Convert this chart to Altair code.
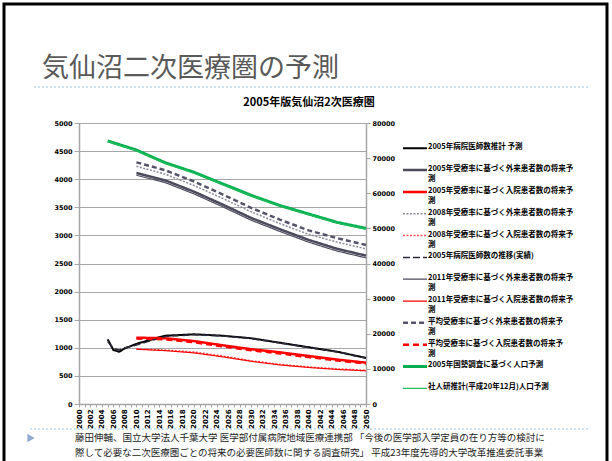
import altair as alt
import pandas as pd

# ---- legend entries (also the series keys); "|" marks a line break ----
legend_labels = [
    "2005年病院医師数推計 予測",
    "2005年受療率に基づく外来患者数の将来予|測",
    "2005年受療率に基づく入院患者数の将来予|測",
    "2008年受療率に基づく外来患者数の将来予|測",
    "2008年受療率に基づく入院患者数の将来予|測",
    "2005年病院医師数の推移(実績)",
    "2011年受療率に基づく外来患者数の将来予|測",
    "2011年受療率に基づく入院患者数の将来予|測",
    "平均受療率に基づく外来患者数の将来予|測",
    "平均受療率に基づく入院患者数の将来予|測",
    "2005年国勢調査に基づく人口予測",
    "社人研推計(平成20年12月)人口予測",
]
line_colors = ["#000000", "#4a4a5c", "#ff0000", "#8a8a9a", "#ff5050", "#2b2b3c",
               "#4a4a5c", "#ff0000", "#55556a", "#ff0000", "#00b050", "#22bb5a"]
line_dashes = [[1, 0], [1, 0], [1, 0], [2, 1.5], [2, 1.5], [7, 3],
               [1, 0], [1, 0], [5, 3], [6, 4], [1, 0], [1, 0]]
line_widths = [2, 2.5, 2.5, 1.5, 1.5, 1.5, 1.2, 1.2, 2.5, 2.5, 3, 1.2]

# ---- data ----
doctor_years = [2005, 2006, 2007, 2008, 2010, 2012, 2015, 2020, 2025, 2030, 2035, 2040, 2045, 2050]
doctors_forecast = [1150, 960, 930, 990, 1070, 1130, 1215, 1240, 1215, 1170, 1090, 1010, 930, 820]
doctors_trend = [1110, 990, 960, 1000, 1050, 1110, 1200, 1235, 1210, 1165, 1085, 1005, 925, 815]

proj_years = [2010, 2015, 2020, 2025, 2030, 2035, 2040, 2045, 2050]
outpatient_2005 = [4110, 3980, 3780, 3550, 3310, 3110, 2920, 2760, 2640]
inpatient_2005 = [1180, 1170, 1120, 1045, 975, 920, 855, 790, 735]
outpatient_2008 = [4230, 4090, 3890, 3660, 3420, 3210, 3020, 2880, 2760]
inpatient_2008 = [980, 960, 925, 855, 770, 705, 660, 625, 600]
outpatient_2011 = [4070, 3940, 3740, 3510, 3270, 3070, 2880, 2720, 2600]
inpatient_2011 = [975, 950, 910, 840, 760, 695, 650, 615, 590]
outpatient_avg = [4300, 4160, 3960, 3730, 3490, 3280, 3090, 2950, 2830]
inpatient_avg = [1165, 1150, 1100, 1025, 955, 900, 835, 775, 720]

pop_years = [2005, 2010, 2015, 2020, 2025, 2030, 2035, 2040, 2045, 2050]
pop_census = [74900, 72300, 68700, 66000, 62700, 59400, 56500, 54100, 51700, 50000]
pop_ipss = [74700, 72100, 68500, 65800, 62500, 59200, 56300, 53900, 51500, 49800]

left_ticks = list(range(0, 5001, 500))
right_ticks = list(range(0, 80001, 10000))
year_ticks = list(range(2000, 2051))


def frame(key, years, values):
    return pd.DataFrame({"series": key, "year": years, "value": values})


left_df = pd.concat([
    frame(legend_labels[0], doctor_years, doctors_forecast),
    frame(legend_labels[1], proj_years, outpatient_2005),
    frame(legend_labels[2], proj_years, inpatient_2005),
    frame(legend_labels[3], proj_years, outpatient_2008),
    frame(legend_labels[4], proj_years, inpatient_2008),
    frame(legend_labels[5], doctor_years, doctors_trend),
    frame(legend_labels[6], proj_years, outpatient_2011),
    frame(legend_labels[7], proj_years, inpatient_2011),
    frame(legend_labels[8], proj_years, outpatient_avg),
    frame(legend_labels[9], proj_years, inpatient_avg),
], ignore_index=True)
right_df = pd.concat([
    frame(legend_labels[10], pop_years, pop_census),
    frame(legend_labels[11], pop_years, pop_ipss),
], ignore_index=True)
legend_df = pd.DataFrame({"series": legend_labels})

AXIS_FONT = "DejaVu Sans"
JP_FONT = "Noto Sans CJK JP"
GRID_GRAY = "#a6a6a6"

color_enc = alt.Color("series:N", scale=alt.Scale(domain=legend_labels, range=line_colors), legend=None)
dash_enc = alt.StrokeDash("series:N", scale=alt.Scale(domain=legend_labels, range=line_dashes), legend=None)
width_enc = alt.StrokeWidth("series:N", scale=alt.Scale(type="ordinal", domain=legend_labels, range=line_widths),
                            legend=None)

x_enc = alt.X(
    "year:Q", title="",
    scale=alt.Scale(domain=[2000, 2050], nice=False, zero=False),
    axis=alt.Axis(values=year_ticks, format="d",
                  labelExpr="datum.value % 2 == 0 ? datum.label : ''",
                  labelAngle=270, labelOverlap=False, labelFlush=False,
                  labelFont=AXIS_FONT, labelFontWeight="bold", labelFontSize=7, labelColor="black",
                  labelPadding=2, tickSize=3, tickColor=GRID_GRAY, domainColor=GRID_GRAY,
                  domainWidth=1.5, grid=False),
)


def axis_style(orient, values, grid):
    return alt.Axis(orient=orient, values=values, format="d", grid=grid, gridColor=GRID_GRAY, gridWidth=1,
                    labelFont=AXIS_FONT, labelFontWeight="bold", labelFontSize=6.5, labelColor="black",
                    labelPadding=2, tickSize=5 if orient == "left" else 4, tickColor=GRID_GRAY,
                    domainColor=GRID_GRAY, domainWidth=1.5)


left = alt.Chart(left_df).mark_line().encode(
    x=x_enc,
    y=alt.Y("value:Q", title="", scale=alt.Scale(domain=[0, 5000], nice=False),
            axis=axis_style("left", left_ticks, True)),
    color=color_enc, strokeDash=dash_enc, strokeWidth=width_enc,
)
right = alt.Chart(right_df).mark_line().encode(
    x=x_enc,
    y=alt.Y("value:Q", title="", scale=alt.Scale(domain=[0, 80000], nice=False),
            axis=axis_style("right", right_ticks, False)),
    color=color_enc, strokeDash=dash_enc, strokeWidth=width_enc,
)

# legend built from the same series scales
legend_y = alt.Y("series:N", title="", axis=None,
                 scale=alt.Scale(type="point", domain=legend_labels, range=[25.3, 265.3], padding=0))
legend_rules = alt.Chart(legend_df).mark_rule().encode(
    x=alt.value(324), x2=alt.value(348), y=legend_y,
    color=color_enc, strokeDash=dash_enc, strokeWidth=width_enc,
)
legend_text = alt.Chart(legend_df).mark_text(
    align="left", baseline="top", dy=-5, lineBreak="|", lineHeight=10,
    font=JP_FONT, fontWeight="bold", fontSize=7.5, color="black",
).encode(x=alt.value(349), y=legend_y, text="series:N")


def text_layer(text, x, y, **style):
    return alt.Chart(pd.DataFrame({"t": [text]})).mark_text(**style).encode(
        x=alt.value(x), y=alt.value(y), text="t:N")


def hline(x1, x2, y, **style):
    return alt.Chart(pd.DataFrame({"k": [0]})).mark_rule(**style).encode(
        x=alt.value(x1), x2=alt.value(x2), y=alt.value(y))


slide_frame = alt.Chart(pd.DataFrame({"k": [0]})).mark_rect(
    fillOpacity=0, stroke="black", strokeWidth=3
).encode(x=alt.value(-75), x2=alt.value(528), y=alt.value(-119), y2=alt.value(347))

slide_title = text_layer("気仙沼二次医療圏の予測", -37, -46, align="left", baseline="alphabetic",
                         font=JP_FONT, fontSize=27, color="#595959")
title_rule = hline(-45, 511, -36, color="#9dc3e6", strokeDash=[2, 2], strokeWidth=1)
chart_title = text_layer("2005年版気仙沼2次医療圏", 230, -20, align="center", baseline="middle",
                         font=JP_FONT, fontSize=11, fontWeight="bold", color="black")
footer_rule = hline(-49, 511, 306, color="#9dc3e6", strokeDash=[2, 2], strokeWidth=1)
bullet = alt.Chart(pd.DataFrame({"k": [0]})).mark_point(
    shape="triangle-right", filled=True, size=70, color="#8faad0", opacity=1
).encode(x=alt.value(-48), y=alt.value(315))
footnote = text_layer(
    "藤田伸輔、国立大学法人千葉大学  医学部付属病院地域医療連携部 「今後の医学部入学定員の在り方等の検討に"
    "\n際して必要な二次医療圏ごとの将来の必要医師数に関する調査研究」 平成23年度先導的大学改革推進委託事業",
    -4, 318, align="left", baseline="alphabetic", lineBreak="\n", lineHeight=15,
    font=JP_FONT, fontSize=9.5, color="#222222")

chart = alt.layer(
    slide_frame, slide_title, title_rule, chart_title, footer_rule, bullet, footnote,
    left, right, legend_rules, legend_text,
).resolve_scale(y="independent").properties(
    width=287, height=281,
    autosize=alt.AutoSizeParams(type="none"),
    padding={"left": 79, "top": 123, "right": 246, "bottom": 57},
).configure_view(strokeWidth=0).configure(background="white")

chart.save("out.html", embed_options={"renderer": "svg", "actions": False})
